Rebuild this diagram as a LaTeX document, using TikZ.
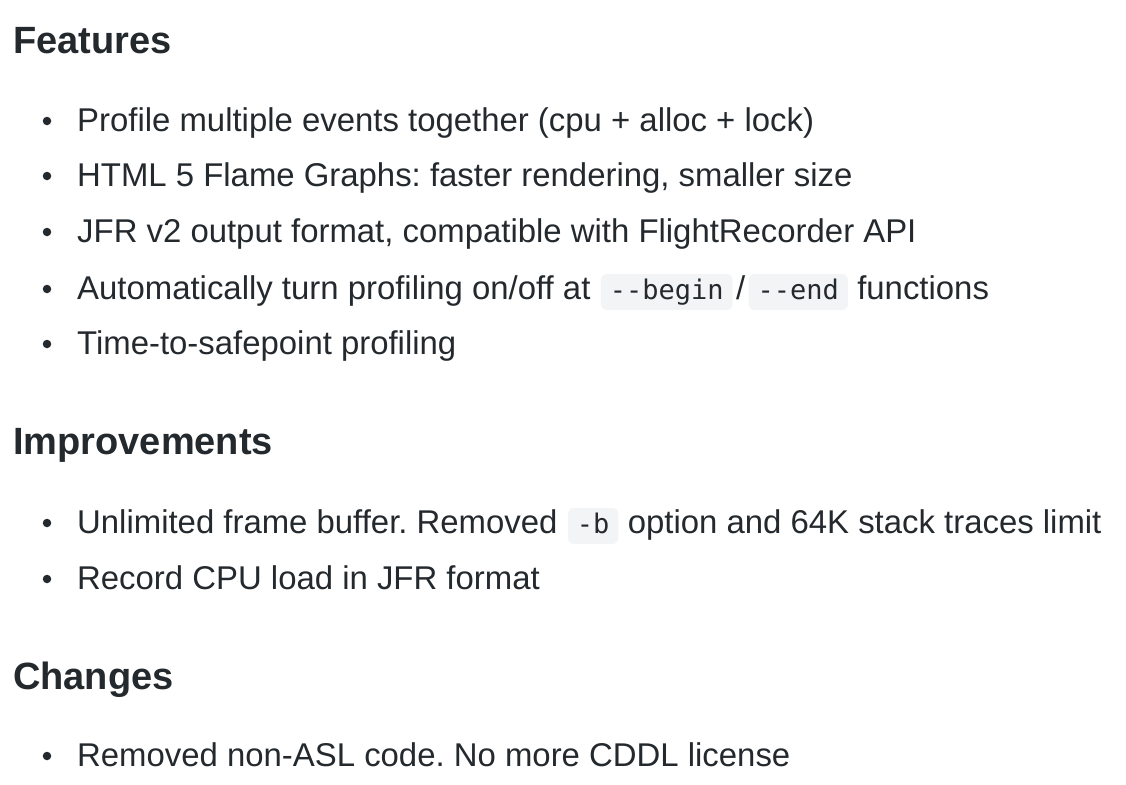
\documentclass[tikz,border=0pt]{standalone}
\usepackage{fontspec}
\setmainfont{Liberation Sans}
\newfontfamily\codefont{DejaVu Sans Mono}
\definecolor{txt}{HTML}{24292E}
\definecolor{codebg}{HTML}{F3F4F5}
\frenchspacing
\begin{document}
\begin{tikzpicture}[x=1pt,y=-1pt,
  head/.style={anchor=base west,inner sep=0,font=\fontsize{38}{44}\selectfont\bfseries,text=txt},
  body/.style={anchor=base west,inner sep=0,font=\fontsize{32.9}{38}\selectfont,text=txt},
  code/.style={anchor=base west,inner xsep=9pt,inner ysep=0,text height=25pt,text depth=11pt,fill=codebg,rounded corners=6pt,font=\codefont\fontsize{27}{30}\selectfont,text=txt},
  dot/.style={circle,fill=txt,inner sep=0,minimum size=8.5pt}]
\useasboundingbox (0,0) rectangle (1126,784);
\node[head] (h1) at (13,53) {Features};
\foreach \y/\t [count=\i] in {131/{Profile multiple events together (cpu + alloc + lock)},186/{HTML 5 Flame Graphs: faster rendering, smaller size},242/{JFR v2 output format, compatible with FlightRecorder API},354/{Time-to-safepoint profiling}}{
  \node[dot] (d\i) at (47,\y-10) {};
  \node[body] (t\i) at (77,\y) {\t};
}
\node[dot] (d5) at (47,289) {};
\node[body] (a1) at (77,299) {Automatically turn profiling on/off at};
\node[code] (c1) at ([xshift=10pt]a1.base east) {--begin};
\node[body] (a2) at ([xshift=3pt]c1.base east) {/};
\node[code] (c2) at ([xshift=3pt]a2.base east) {--end};
\node[body] (a3) at ([xshift=9pt]c2.base east) {functions};
\node[head] (h2) at (13,454) {Improvements};
\node[dot] (d6) at (47,523) {};
\node[body] (b1) at (77,533) {Unlimited frame buffer. Removed};
\node[code] (c3) at ([xshift=10pt]b1.base east) {-b};
\node[body] (b2) at ([xshift=9pt]c3.base east) {option and 64K stack traces limit};
\node[dot] (d7) at (47,579) {};
\node[body] (b3) at (77,589) {Record CPU load in JFR format};
\node[head] (h3) at (13,689) {Changes};
\node[dot] (d8) at (47,756) {};
\node[body] (e1) at (77,766) {Removed non-ASL code. No more CDDL license};
\end{tikzpicture}
\end{document}
